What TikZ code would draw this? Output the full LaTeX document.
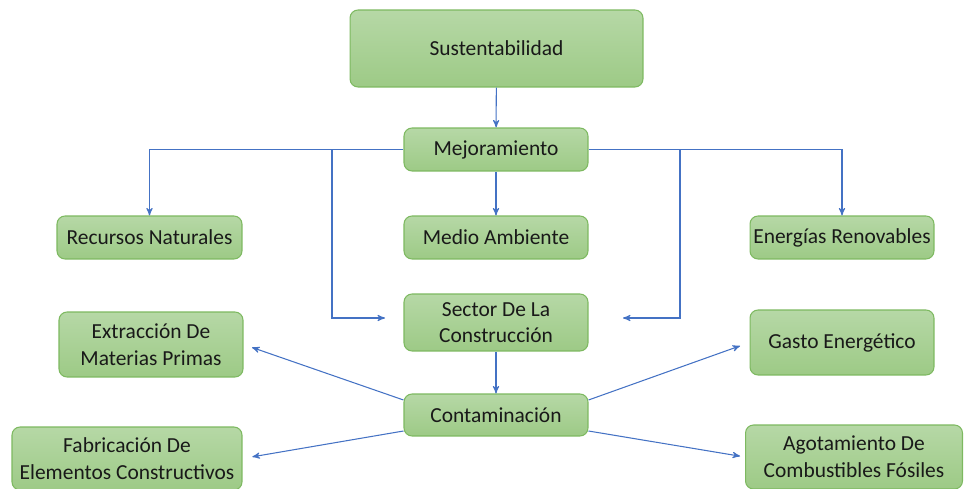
\documentclass[tikz,border=0pt]{standalone}
\usepackage{fontspec}
\setmainfont{Carlito}
\usepackage{xcolor}
\usetikzlibrary{arrows}
\usetikzlibrary{positioning, calc}
\definecolor{boxtop}{HTML}{B6D8A6}
\definecolor{boxbottom}{HTML}{9DCA86}
\definecolor{boxedge}{HTML}{7DB960}
\definecolor{linkblue}{HTML}{4472C4}
\tikzset{
    box/.style = {rounded corners=0.16cm, draw=boxedge, line width=0.6pt,
        top color=boxtop, bottom color=boxbottom, align=center, inner sep=0pt,
        text=black!90, font=\fontsize{12.2}{15.2}\selectfont},
    smallbox/.style = {box, minimum width=3.68cm, minimum height=0.86cm},
    link/.style = {->, draw=linkblue, line width=0.6pt},
}

\begin{document}
\begin{tikzpicture}[x=0.02cm, y=-0.02cm, >=stealth']
            \useasboundingbox (0,0) rectangle (966,489);
            \node (sust) [box, minimum width=5.86cm, minimum height=1.54cm] at (496.5,48.5) {Sustentabilidad};
            \node (mej) [smallbox] at (496,149.5) {Mejoramiento};
            \node (rec) [smallbox, minimum width=3.7cm] at (149.5,237.5) {Recursos Naturales};
            \node (medio) [smallbox] at (496,237.5) {Medio Ambiente};
            \node (ener) [smallbox] at (842,237.5) {Energías Renovables};
            \node (sector) [smallbox, minimum height=1.14cm] at (496,322.5) {Sector De La\\Construcción};
            \node (extr) [smallbox, minimum height=1.3cm] at (151,344.5) {Extracción De\\Materias Primas};
            \node (gasto) [smallbox, minimum height=1.3cm] at (842,342.5) {Gasto Energético};
            \node (cont) [smallbox, minimum height=0.84cm] at (496,415) {Contaminación};
            \node (fabr) [box, minimum width=4.6cm, minimum height=1.26cm] at (127,458.5) {Fabricación De\\Elementos Constructivos};
            \node (agot) [box, minimum width=4.34cm, minimum height=1.28cm] at (854,457) {Agotamiento De\\Combustibles Fósiles};
            % turning points towards the sector
            \coordinate (lturn) at (332,318);
            \coordinate (rturn) at (680,318);
            \coordinate (lend) at (385,318);
            \coordinate (rend) at (623,318);
            \draw[link] (sust) -- (mej);
            \draw[link] (mej) -- (medio);
            \draw[link] (mej.west) -| (rec.north);
            \draw[link] (mej.east) -| (ener.north);
            \draw[link] (mej.west -| lturn) -- (lturn) -- (lend);
            \draw[link] (mej.east -| rturn) -- (rturn) -- (rend);
            \draw[link] (sector) -- (cont);
            % fan out of the pollution box
            \draw[link, shorten >=0.18cm] ($(cont.west)+(0,-15)$) -- (extr.east);
            \draw[link, shorten >=0.2cm] ($(cont.west)+(0,16)$) -- (fabr.east);
            \draw[link, shorten >=0.2cm] ($(cont.east)+(0,-15)$) -- (gasto.west);
            \draw[link, shorten >=0.1cm] ($(cont.east)+(0,16)$) -- (agot.west);
\end{tikzpicture}
\end{document}
